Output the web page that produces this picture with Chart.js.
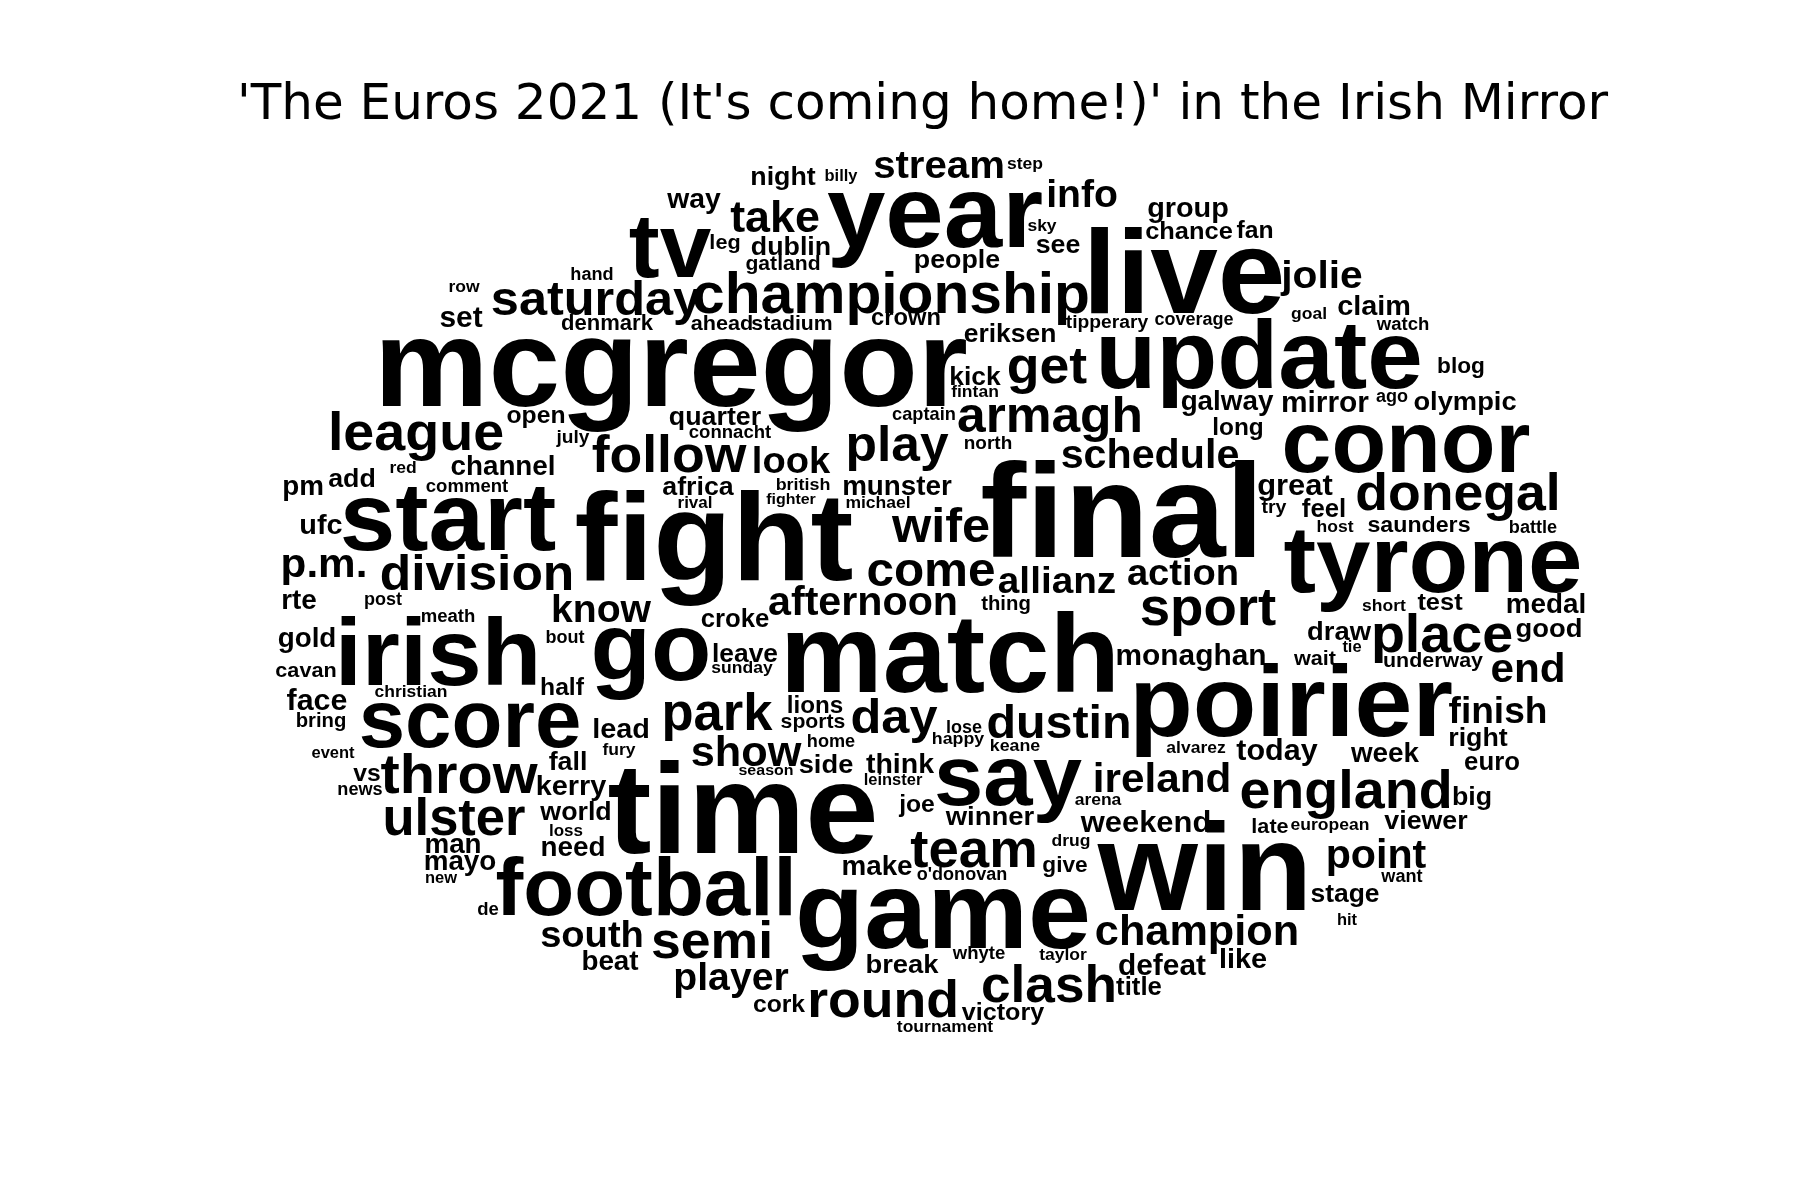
<!DOCTYPE html>
<html>
<head>
<meta charset="utf-8">
<style>
html,body{margin:0;padding:0;background:#ffffff;}
#wrap{width:1800px;height:1200px;}
</style>
<script src="https://cdn.jsdelivr.net/npm/chart.js@4.4.1/dist/chart.umd.min.js"></script>
</head>
<body>
<div id="wrap"><canvas id="c" width="1800" height="1200"></canvas></div>
<script>
const titleText = "'The Euros 2021 (It's coming home!)' in the Irish Mirror";

const words = [
  "night","billy","stream","step","way","take","year","info","sky","see",
  "group","chance","fan","live","people","tv","leg","dublin","gatland","hand",
  "row","saturday","championship","set","denmark","ahead","stadium","crown","tipperary","coverage",
  "eriksen","jolie","claim","goal","watch","mcgregor","update","get","kick","fintan",
  "captain","blog","galway","mirror","ago","olympic","armagh","long","quarter","connacht",
  "open","league","july","follow","look","play","north","schedule","conor","channel",
  "red","add","pm","comment","africa","rival","british","fighter","munster","michael",
  "final","great","try","feel","donegal","host","saunders","battle","tyrone","start",
  "ufc","p.m.","division","fight","wife","come","allianz","action","thing","sport",
  "rte","post","meath","know","afternoon","croke","irish","gold","bout","cavan",
  "christian","half","go","leave","sunday","match","monaghan","place","short","test",
  "medal","draw","tie","good","wait","underway","end","poirier","finish","right",
  "euro","week","today","england","big","late","european","viewer","point","want",
  "stage","hit","win","champion","like","defeat","title","clash","victory","tournament",
  "whyte","taylor","drug","give","o'donovan","team","weekend","arena","ireland","winner",
  "say","alvarez","keane","happy","lose","dustin","day","park","lions","sports",
  "lead","score","face","bring","fury","show","home","season","side","think",
  "leinster","joe","time","make","football","game","semi","south","beat","player",
  "break","cork","round","event","vs","news","throw","fall","kerry","ulster",
  "world","loss","need","man","mayo","new","de"
];

const xs = [
  783,841,939,1025,694,775,935,1082,1042,1058,
  1188,1189,1255,1184,957,670,725,791,783,592,
  464,596,891,461,607,722,792,906,1107,1194,
  1010,1322,1374,1309,1403,671,1259,1047,975,975,
  924,1461,1227,1325,1392,1465,1050,1238,715,730,
  536,416,573,669,791,897,988,1150,1406,503,
  403,352,303,467,698,695,803,791,897,878,
  1122,1295,1274,1324,1458,1335,1419,1533,1433,448,
  321,324,477,714,941,931,1057,1183,1006,1208,
  299,383,448,601,863,735,438,307,565,306,
  411,562,651,745,742,950,1191,1442,1384,1440,
  1546,1339,1352,1549,1315,1433,1528,1291,1498,1478,
  1492,1385,1277,1346,1472,1270,1330,1426,1376,1402,
  1345,1347,1205,1197,1243,1162,1139,1049,1003,945,
  979,1063,1071,1065,962,974,1146,1098,1162,990,
  1008,1196,1015,958,964,1059,894,717,815,813,
  621,470,317,321,619,746,831,766,826,900,
  893,917,743,877,646,943,712,592,610,731,
  902,779,883,333,367,360,459,568,571,454,
  576,566,573,453,460,441,488
];

const ys = [
  185,181,178,169,208,232,247,207,231,253,
  217,239,238,313,268,277,249,255,270,280,
  292,315,313,327,330,330,330,325,328,325,
  342,288,315,319,330,406,388,383,385,397,
  420,373,410,412,402,410,432,435,425,438,
  423,450,443,472,473,461,449,468,472,475,
  473,487,495,492,495,508,490,504,495,508,
  557,495,513,517,510,532,532,533,592,550,
  534,577,590,580,542,586,593,585,610,625,
  609,605,622,622,615,627,685,647,643,677,
  697,695,680,662,673,692,665,652,611,610,
  613,640,652,637,665,667,682,736,723,746,
  770,762,760,808,805,833,830,829,868,882,
  902,925,910,945,968,975,995,1002,1020,1032,
  959,960,846,872,880,867,832,805,792,825,
  805,753,751,744,733,738,733,730,713,728,
  738,747,710,727,755,766,747,775,773,773,
  785,812,853,875,915,948,958,947,970,990,
  973,1012,1017,758,781,795,793,770,795,835,
  820,836,856,853,870,883,915
];

const weights = [
  26,16,39,17,27.5,43.5,102,38,17,26,
  28,24.7,24,118,26,90,21,26,20.5,17.6,
  17,49,57,29,21.4,21,20.6,23,18.7,17.5,
  25.7,39.5,28,17,18,125,97,52,25.7,17,
  17.7,22,27,29,17.5,26.5,50,23.7,26,18,
  24,54,18.6,52,37,50,18.4,40,87,27,
  17,26,27,18,26,16.5,17.4,15.5,27,17,
  134,30,19,25,52,17,22.5,17.6,95,97,
  28,41,50,125,49,48,37.6,37,19.7,53,
  27,17.5,18,38,40,25,95,27,17.5,21,
  17,24,96,25.6,17,112,29,54,17,24.7,
  27,26.6,16,26.6,21,20.8,41,101,36,26,
  25,27,29.6,54,26,21,17,26,40,17.6,
  25.7,16,125,42,28,29,25,51.6,24.4,17,
  18,17,17,22,17.5,53,30,17,41,26.7,
  86,17,17.3,17.3,17.5,47,49,51,23.5,20.6,
  28,81,29.5,19.7,17,42,17.6,15.5,26.5,27.7,
  16,24,128,27,81,110,52,37,27,38,
  26.6,24,52,16,24,17.6,56,26,28,51,
  26,16.5,27,27,27,16,18
];

const fontScale = 1.0;
const glyphStretch = 1.03;

const points = xs.map((x, i) => ({ x: x, y: ys[i] }));

const wordPlugin = {
  id: 'wordText',
  afterDatasetsDraw(chart) {
    const meta = chart.getDatasetMeta(0);
    const ctx = chart.ctx;
    ctx.save();
    ctx.fillStyle = '#000000';
    ctx.textAlign = 'center';
    ctx.textBaseline = 'alphabetic';
    meta.data.forEach((el, i) => {
      const size = weights[i] * fontScale;
      ctx.font = 'bold ' + size + 'px "Liberation Sans", Arial, Helvetica, sans-serif';
      ctx.save();
      ctx.translate(el.x, el.y);
      ctx.scale(glyphStretch, 1);
      ctx.fillText(words[i], 0, 0);
      ctx.restore();
    });
    ctx.restore();
  }
};

const bgPlugin = {
  id: 'bg',
  beforeDraw(chart) {
    const ctx = chart.ctx;
    ctx.save();
    ctx.fillStyle = '#ffffff';
    ctx.fillRect(0, 0, chart.width, chart.height);
    ctx.restore();
  }
};

new Chart(document.getElementById('c'), {
  type: 'scatter',
  data: {
    datasets: [{
      data: points,
      pointRadius: 0,
      pointHoverRadius: 0,
      showLine: false
    }]
  },
  options: {
    responsive: false,
    animation: false,
    devicePixelRatio: 1,
    layout: { padding: { left: 45, right: 0, top: 0, bottom: 0 } },
    plugins: {
      legend: { display: false },
      tooltip: { enabled: false },
      title: {
        display: true,
        text: titleText,
        color: '#000000',
        font: { family: '"DejaVu Sans", sans-serif', size: 50, weight: 'normal', lineHeight: 1.2 },
        padding: { top: 76, bottom: 0 }
      }
    },
    scales: {
      x: { type: 'linear', display: false, min: 45, max: 1800 },
      y: { type: 'linear', display: false, min: 136, max: 1200, reverse: true }
    }
  },
  plugins: [bgPlugin, wordPlugin]
});
</script>
</body>
</html>
